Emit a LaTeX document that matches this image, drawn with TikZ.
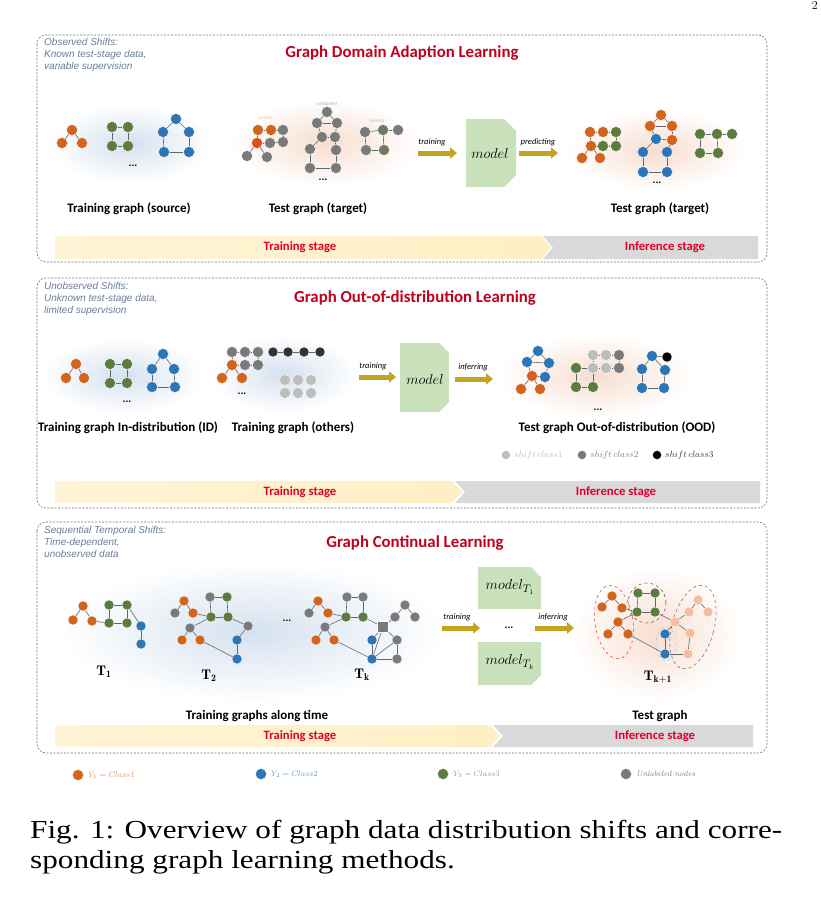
\documentclass[tikz,border=0pt]{standalone}
\usepackage{fontspec}
\setsansfont{Carlito}
\newfontfamily\notefont{Liberation Sans}
\newfontfamily\capfont[FakeStretch=1.2]{Liberation Serif}
\usetikzlibrary{arrows.meta}
\definecolor{corange}{HTML}{D2641E}
\definecolor{cgreen}{HTML}{5B7B3F}
\definecolor{cblue}{HTML}{2E75B6}
\definecolor{cgray}{HTML}{7A7A7A}
\definecolor{cdark}{HTML}{333333}
\definecolor{clight}{HTML}{BDBDBD}
\definecolor{clo}{HTML}{F2BFA0}
\definecolor{titlered}{HTML}{C00020}
\definecolor{stagered}{HTML}{E0002A}
\definecolor{notecol}{HTML}{6B7C99}
\definecolor{arrowcol}{HTML}{C3A41E}
\definecolor{modelcol}{HTML}{C9E2BC}
\definecolor{edgecol}{HTML}{5E6670}
\definecolor{bglow}{HTML}{D5E1EF}
\definecolor{pglow}{HTML}{F7DDCF}
\definecolor{trainbar}{HTML}{FFEFC4}
\definecolor{infbar}{HTML}{D9D9D9}
\newcommand{\GN}[4]{\node[gn,fill=#2] (#1) at (#3,#4) {};}
\newcommand{\GS}[4]{\node[gn,minimum size=10pt,fill=#2] (#1) at (#3,#4) {};}
\newcommand{\GE}[1]{\foreach \a/\b in {#1} {\draw[ge] (\a)--(\b);}}
\begin{document}
\begin{tikzpicture}[x=1pt,y=-1pt,
  gn/.style={circle,inner sep=0pt,minimum size=11pt,draw=white,line width=0.3pt},
  ge/.style={draw=edgecol,line width=0.6pt},
  note/.style={font=\notefont\itshape\fontsize{10}{12}\selectfont,text=notecol,align=left,anchor=north west,inner sep=0pt},
  ttl/.style={font=\sffamily\bfseries\fontsize{16.8}{19}\selectfont,text=titlered},
  lab/.style={font=\sffamily\bfseries\fontsize{13}{15}\selectfont},
  stagel/.style={font=\sffamily\bfseries\fontsize{12.7}{14}\selectfont,text=stagered},
  arl/.style={font=\sffamily\itshape\fontsize{8.5}{10}\selectfont},
  dotsl/.style={font=\sffamily\bfseries\fontsize{11}{12}\selectfont,inner sep=0pt},
  panel/.style={draw=black!55,dash pattern=on 2pt off 1.5pt,line width=0.6pt,rounded corners=9pt},
  bigarrow/.style={line width=5pt,draw=arrowcol,-{Triangle[length=7pt,width=11pt]}},
  mtext/.style={font=\fontsize{15}{17}\selectfont},
  tiny/.style={font=\sffamily\fontsize{5}{6}\selectfont,inner sep=0pt}
]
\useasboundingbox (0,0) rectangle (820,902);
\fill[white] (0,0) rectangle (820,902);
\node[font=\fontsize{12}{14}\selectfont,inner sep=0pt,anchor=north east] (pg) at (818,1) {2};

%%%%%%%%%%%%%%%% PANEL 1
\draw[panel] (37,35) rectangle (767,262);
\node[note] (n1) at (44,38) {Observed Shifts:\\Known test-stage data,\\variable supervision};
\node[ttl] (t1) at (402,53) {Graph Domain Adaption Learning};
\shade[inner color=bglow,outer color=white] (130,144) ellipse [x radius=82pt,y radius=40pt];
\shade[inner color=pglow,outer color=white] (325,143) ellipse [x radius=94pt,y radius=43pt];
\shade[inner color=pglow,outer color=white] (656,150) ellipse [x radius=90pt,y radius=40pt];
% source
\GN{a1}{corange}{72}{130}\GN{a2}{corange}{62}{143}\GN{a3}{corange}{82}{143}
\GE{a1/a2,a1/a3}
\GN{b1}{cgreen}{112}{127}\GN{b2}{cgreen}{128}{127}\GN{b3}{cgreen}{112}{146}\GN{b4}{cgreen}{128}{146}
\GE{b1/b2,b2/b4,b4/b3,b3/b1}
\GN{c1}{cblue}{176}{119}\GN{c2}{cblue}{163}{132}\GN{c3}{cblue}{189}{132}\GN{c4}{cblue}{164}{152}\GN{c5}{cblue}{189}{152}
\GE{c1/c2,c1/c3,c2/c4,c3/c5,c4/c5}
\node[dotsl] (d1) at (133,166) {...};
% target
\GN{t1a}{corange}{258}{130}\GN{t1b}{corange}{271}{130}\GN{t1c}{cgray}{283}{130}
\GN{t1d}{corange!80!red}{257}{143}\GN{t1e}{cgray}{270}{143}\GN{t1f}{cgray}{283}{142}
\GN{t1g}{cgray}{247}{156}\GN{t1h}{cgray}{267}{157}
\GE{t1a/t1b,t1b/t1c,t1a/t1d,t1c/t1f,t1d/t1e,t1e/t1f,t1d/t1g,t1d/t1h}
\GN{m1}{cgray}{327}{112}\GN{m2}{cgray}{317}{123}\GN{m3}{cgray}{337}{123}
\GN{m4}{cgray}{322}{137}\GN{m5}{cgray}{335}{137}\GN{m6}{cgray}{310}{149}\GN{m7}{cgray}{336}{150}
\GN{m8}{cgray}{310}{168}\GN{m9}{cgray}{336}{168}
\GE{m1/m2,m1/m3,m2/m3,m2/m4,m3/m5,m4/m5,m4/m6,m5/m7,m6/m8,m7/m9,m8/m9}
\GN{r1}{cgray}{365}{132}\GN{r2}{cgray!60!cgreen}{383}{130}\GN{r3}{cgray}{398}{130}
\GN{r4}{cgray}{366}{150}\GN{r5}{cgray!60!cgreen}{384}{150}
\GE{r1/r2,r2/r3,r2/r5,r5/r4,r4/r1}
\node[tiny,text=corange!40] (s1) at (265,118) {source};
\node[tiny,text=black!30] (s2) at (327,104) {unlabeled};
\node[tiny,text=cgreen!40] (s3) at (377,121) {labeled};
\node[dotsl] (d2) at (323,180) {...};
% predicted
\GN{p1}{corange}{590}{132}\GN{p2}{corange}{603}{132}\GN{p3}{cgreen}{616}{132}
\GN{p4}{corange}{591}{146}\GN{p5}{cgreen}{603}{146}\GN{p6}{cgreen}{616}{146}
\GN{p7}{corange}{582}{158}\GN{p8}{corange}{600}{158}
\GE{p1/p2,p2/p3,p1/p4,p3/p6,p4/p5,p5/p6,p4/p7,p4/p8}
\GN{q1}{corange}{661}{115}\GN{q2}{corange}{650}{126}\GN{q3}{corange}{672}{126}
\GN{q4}{cblue}{656}{139}\GN{q5}{corange}{672}{140}\GN{q6}{cblue}{643}{152}\GN{q7}{cblue}{667}{152}
\GN{q8}{cblue}{643}{172}\GN{q9}{cblue}{667}{172}
\GE{q1/q2,q1/q3,q2/q3,q2/q4,q3/q5,q4/q5,q4/q6,q5/q7,q6/q8,q7/q9,q8/q9}
\GN{w1}{cgreen}{700}{134}\GN{w2}{cgreen}{717}{134}\GN{w3}{cgreen}{732}{134}
\GN{w4}{cgreen}{700}{153}\GN{w5}{cgreen}{718}{153}
\GE{w1/w2,w2/w3,w2/w5,w5/w4,w4/w1}
\node[dotsl] (d3) at (657,183) {...};
% model and arrows
\fill[modelcol] (466,119) -- (504,119) -- (516,131) -- (516,175) -- (504,187) -- (466,187) -- cycle;
\node[mtext] (mod1) at (490,153) {$model$};
\coordinate (ar1s) at (418,153); \coordinate (ar1e) at (457,153);
\coordinate (ar2s) at (519,153); \coordinate (ar2e) at (558,153);
\draw[bigarrow] (ar1s) -- (ar1e);
\draw[bigarrow] (ar2s) -- (ar2e);
\node[arl] (al1) at (432,142) {training};
\node[arl] (al2) at (538,142) {predicting};
\node[lab] (l1) at (129,209) {Training graph (source)};
\node[lab] (l2) at (318,209) {Test graph (target)};
\node[lab] (l3) at (660,209) {Test graph (target)};
\shade[left color=trainbar!70,right color=trainbar] (55,236) -- (541,236) -- (551,247.5) -- (541,259) -- (55,259) -- cycle;
\fill[infbar] (543,236) -- (758,236) -- (758,259) -- (543,259) -- (553,247.5) -- cycle;
\node[stagel] (st1) at (300,247.5) {Training stage};
\node[stagel] (st2) at (665,247.5) {Inference stage};

%%%%%%%%%%%%%%%% PANEL 2
\draw[panel] (37,278) rectangle (767,508);
\node[note] (n2) at (44,282) {Unobserved Shifts:\\Unknown test-stage data,\\limited supervision};
\node[ttl] (t2) at (415,298) {Graph Out-of-distribution Learning};
\shade[inner color=bglow,outer color=white] (123,376) ellipse [x radius=82pt,y radius=38pt];
\shade[inner color=bglow,outer color=white] (283,374) ellipse [x radius=74pt,y radius=39pt];
\shade[inner color=pglow,outer color=white] (596,376) ellipse [x radius=98pt,y radius=41pt];
\GN{e1}{corange}{76}{364}\GN{e2}{corange}{66}{378}\GN{e3}{corange}{84}{378}
\GE{e1/e2,e1/e3}
\GN{f1}{cgreen}{110}{364}\GN{f2}{cgreen}{127}{364}\GN{f3}{cgreen}{110}{383}\GN{f4}{cgreen}{127}{383}
\GE{f1/f2,f2/f4,f4/f3,f3/f1}
\GN{g1}{cblue}{163}{354}\GN{g2}{cblue}{152}{369}\GN{g3}{cblue}{174}{369}\GN{g4}{cblue}{152}{387}\GN{g5}{cblue}{175}{387}
\GE{g1/g2,g1/g3,g2/g4,g3/g5,g4/g5}
\node[dotsl] (d4) at (127,402) {...};
\GN{h1}{cgray}{232}{352}\GN{h2}{cgray}{245}{352}\GN{h3}{cgray}{258}{352}
\GN{h4}{corange}{232}{365}\GN{h5}{cgray}{245}{365}\GN{h6}{cgray}{258}{365}
\GN{h7}{corange}{222}{378}\GN{h8}{corange}{242}{378}
\GE{h1/h2,h2/h3,h1/h4,h3/h6,h4/h5,h5/h6,h4/h7,h4/h8}
\GS{i1}{cdark}{273}{352}\GS{i2}{cdark}{288}{352}\GS{i3}{cdark}{304}{352}\GS{i4}{cdark}{320}{352}
\GE{i1/i2,i2/i3,i3/i4}
\GN{j1}{clight}{285}{380}\GN{j2}{clight}{298}{380}\GN{j3}{clight}{311}{380}
\GN{j4}{clight}{285}{393}\GN{j5}{clight}{298}{393}\GN{j6}{clight}{311}{393}
\node[dotsl] (d5) at (242,394) {...};
% OOD test
\GN{k1}{cblue}{538}{351}\GN{k2}{cblue}{527}{362}\GN{k3}{cblue}{549}{363}
\GN{k4}{corange}{532}{376}\GN{k5}{cblue}{545}{377}\GN{k6}{corange}{521}{389}\GN{k7}{corange}{540}{389}
\GE{k1/k2,k1/k3,k2/k3,k3/k5,k2/k4,k4/k5,k4/k6,k4/k7}
\GN{o1}{clight}{593}{355}\GN{o2}{clight}{606}{355}\GN{o3}{cgray}{619}{355}
\GN{o4}{cgreen}{576}{368}\GN{o5}{clight}{593}{368}\GN{o6}{clight}{606}{368}\GN{o7}{cgray}{619}{368}
\GN{o8}{cgreen}{576}{387}\GN{o9}{cgreen}{593}{387}
\GE{o1/o2,o2/o3,o1/o5,o3/o7,o4/o5,o5/o6,o6/o7,o4/o8,o8/o9,o9/o5}
\GN{u1}{cblue}{652}{356}\GS{u2}{black}{667}{357}\GN{u3}{cblue}{642}{369}\GN{u4}{cblue}{665}{370}
\GN{u5}{cblue}{642}{388}\GN{u6}{cblue}{664}{388}
\GE{u1/u2,u1/u3,u1/u4,u3/u5,u4/u6,u5/u6}
\node[dotsl] (d6) at (598,410) {...};
\fill[modelcol] (400,343) -- (439,343) -- (449,353) -- (449,402) -- (439,412) -- (400,412) -- cycle;
\node[mtext] (mod2) at (425,379) {$model$};
\coordinate (ar3s) at (359,377); \coordinate (ar3e) at (396,377);
\coordinate (ar4s) at (455,379); \coordinate (ar4e) at (493,379);
\draw[bigarrow] (ar3s) -- (ar3e);
\draw[bigarrow] (ar4s) -- (ar4e);
\node[arl] (al3) at (373,366) {training};
\node[arl] (al4) at (473,367) {inferring};
\node[lab] (l4) at (128,428) {Training graph In-distribution (ID)};
\node[lab] (l5) at (293,428) {Training graph (others)};
\node[lab] (l6) at (617,428) {Test graph Out-of-distribution (OOD)};
\node[gn,minimum size=9pt,fill=clight] (sc1) at (506,455) {};
\node[anchor=west,inner sep=0pt,text=black!25,font=\fontsize{9.5}{10}\selectfont] (sct1) at (514,455) {$shift\,class1$};
\node[gn,minimum size=9pt,fill=cgray] (sc2) at (582,455) {};
\node[anchor=west,inner sep=0pt,text=black!50,font=\fontsize{9.5}{10}\selectfont] (sct2) at (590,455) {$shift\,class2$};
\node[gn,minimum size=9pt,fill=black] (sc3) at (657,455) {};
\node[anchor=west,inner sep=0pt,text=black!80,font=\fontsize{9.5}{10}\selectfont] (sct3) at (665,455) {$shift\,class3$};
\shade[left color=trainbar!70,right color=trainbar] (55,481) -- (452,481) -- (462,492) -- (452,503) -- (55,503) -- cycle;
\fill[infbar] (455,481) -- (760,481) -- (760,503) -- (455,503) -- (465,492) -- cycle;
\node[stagel] (st3) at (300,492) {Training stage};
\node[stagel] (st4) at (616,492) {Inference stage};

%%%%%%%%%%%%%%%% PANEL 3
\draw[panel] (37,522) rectangle (767,753);
\node[note] (n3) at (44,526) {Sequential Temporal Shifts:\\Time-dependent,\\unobserved data};
\node[ttl] (t3) at (415,543) {Graph Continual Learning};
\shade[inner color=bglow,outer color=white] (253,632) ellipse [x radius=194pt,y radius=70pt];
\shade[inner color=pglow,outer color=white] (657,634) ellipse [x radius=84pt,y radius=67pt];
% T1
\GS{x1}{corange}{83}{606}\GS{x2}{corange}{73}{620}\GS{x3}{corange}{92}{621}
\GS{x4}{cgreen}{109}{605}\GS{x5}{cgreen}{127}{605}\GS{x6}{cgreen}{109}{623}\GS{x7}{cgreen}{127}{623}
\GS{x8}{cblue}{141}{626}\GS{x9}{cblue}{141}{644}
\GE{x1/x2,x1/x3,x3/x6,x4/x5,x5/x7,x7/x6,x6/x4,x5/x8,x8/x9}
% T2
\GS{y1}{corange}{184}{601}\GS{y2}{cgray}{175}{613}\GS{y3}{corange}{193}{613}
\GS{y4}{cgray}{210}{597}\GS{y5}{cgreen}{227}{597}\GS{y6}{cgreen}{211}{617}\GS{y7}{cgreen}{228}{617}
\GS{y8}{cgray}{190}{628}\GS{y9}{cgray}{248}{626}\GS{y10}{corange}{182}{640}\GS{y11}{corange}{200}{640}
\GS{y12}{cblue}{237}{640}\GS{y13}{cblue}{237}{659}
\GE{y1/y2,y1/y3,y3/y6,y4/y5,y4/y6,y5/y7,y6/y7,y6/y8,y7/y9,y8/y10,y8/y11,y9/y12,y12/y13,y11/y13}
\node[dotsl] (d7) at (287,621) {...};
% Tk
\GS{z1}{corange}{318}{601}\GS{z2}{cgray}{309}{613}\GS{z3}{corange}{328}{613}
\GS{z4}{cgray}{347}{597}\GS{z5}{cgray}{363}{597}\GS{z6}{cgreen}{346}{617}\GS{z7}{cgreen}{363}{617}
\GS{z8}{cgray}{325}{627}
\node[rectangle,inner sep=0pt,minimum size=11pt,fill=cgray,draw=white,line width=0.3pt] (z9) at (383,627) {};
\GS{z10}{cgray}{405}{605}\GS{z11}{cgray}{395}{617}\GS{z12}{cgray}{415}{617}
\GS{z13}{corange}{316}{640}\GS{z14}{corange}{334}{640}\GS{z15}{cblue}{372}{640}\GS{z16}{cgray}{397}{640}
\GS{z17}{cblue}{372}{659}\GS{z18}{cgray}{397}{659}
\GE{z1/z2,z1/z3,z3/z6,z4/z5,z4/z6,z5/z7,z6/z7,z6/z8,z7/z9,z8/z13,z8/z14,z10/z11,z10/z12,z11/z9,z9/z15,z9/z16,z15/z17,z16/z18,z17/z18,z14/z17,z9/z17,z16/z17}
\node[font=\fontsize{14}{16}\selectfont] (T1) at (104,672) {$\mathbf{T_1}$};
\node[font=\fontsize{14}{16}\selectfont] (T2) at (209,676) {$\mathbf{T_2}$};
\node[font=\fontsize{14}{16}\selectfont] (Tk) at (362,675) {$\mathbf{T_k}$};
% test graph T_{k+1}
\draw[red!80,dashed,line width=0.5pt,rotate around={8:(614,622)}] (614,622) ellipse [x radius=19pt,y radius=37pt];
\draw[black!70,dashed,line width=0.5pt] (647,603) ellipse [x radius=19pt,y radius=20pt];
\draw[black!60,dashed,line width=0.5pt,rotate around={-15:(693,627)}] (693,627) ellipse [x radius=21pt,y radius=43pt];
\draw[cblue!40,dashed,line width=0.5pt] (666,644) ellipse [x radius=10pt,y radius=17pt];
\GS{v1}{corange}{612}{596}\GS{v2}{corange}{602}{607}\GS{v3}{corange}{622}{608}
\GS{v4}{corange}{618}{622}\GS{v5}{corange}{608}{634}\GS{v6}{corange}{628}{634}
\GS{g7}{cgreen}{638}{593}\GS{g8}{cgreen}{655}{593}\GS{g9}{cgreen}{637}{612}\GS{g10}{cgreen}{655}{612}
\GS{lo1}{clo}{698}{600}\GS{lo2}{clo}{689}{612}\GS{lo3}{clo}{708}{612}\GS{lo4}{clo}{675}{622}\GS{lo5}{clo}{690}{633}\GS{lo6}{clo}{688}{654}
\GS{bb1}{cblue}{665}{634}\GS{bb2}{cblue}{665}{654}
\GE{v1/v2,v1/v3,v3/g9,v4/v5,v4/v6,v4/g9,g7/g8,g8/g10,g10/g9,g9/g7,g10/lo4,lo4/lo2,lo1/lo2,lo1/lo3,lo4/lo5,lo5/lo6,bb2/lo6,bb1/bb2,v6/bb2,lo4/bb1}
\node[font=\fontsize{14}{16}\selectfont] (Tk1) at (658,677) {$\mathbf{T_{k+1}}$};
% models and arrows
\fill[modelcol] (478,567) -- (531,567) -- (541,577) -- (541,609) -- (478,609) -- cycle;
\node[mtext] (mod3) at (510,587) {$model_{T_1}$};
\node[dotsl] (d8) at (509,628) {...};
\fill[modelcol] (478,642) -- (541,642) -- (541,675) -- (531,685) -- (478,685) -- cycle;
\node[mtext] (mod4) at (510,662) {$model_{T_k}$};
\coordinate (ar5s) at (442,628); \coordinate (ar5e) at (480,628);
\coordinate (ar6s) at (535,628); \coordinate (ar6e) at (574,628);
\draw[bigarrow] (ar5s) -- (ar5e);
\draw[bigarrow] (ar6s) -- (ar6e);
\node[arl] (al5) at (457,617) {training};
\node[arl] (al6) at (553,617) {inferring};
\node[lab] (l7) at (257,716) {Training graphs along time};
\node[lab] (l8) at (660,716) {Test graph};
\shade[left color=trainbar!70,right color=trainbar] (55,725) -- (490,725) -- (500,736) -- (490,747) -- (55,747) -- cycle;
\fill[infbar] (493,725) -- (753,725) -- (753,747) -- (493,747) -- (503,736) -- cycle;
\node[stagel] (st5) at (300,736) {Training stage};
\node[stagel] (st6) at (655,736) {Inference stage};

%%%%%%%%%%%%%%%% LEGEND
\node[gn,fill=corange] (lg1) at (78,775) {};
\node[anchor=west,inner sep=0pt,text=corange!70,font=\fontsize{8}{9}\selectfont] (lgt1) at (88,775) {$Y_1 = Class1$};
\node[gn,fill=cblue] (lg2) at (261,774) {};
\node[anchor=west,inner sep=0pt,text=cblue!70,font=\fontsize{8}{9}\selectfont] (lgt2) at (271,774) {$Y_2 = Class2$};
\node[gn,fill=cgreen] (lg3) at (443,774) {};
\node[anchor=west,inner sep=0pt,text=cgreen!70,font=\fontsize{8}{9}\selectfont] (lgt3) at (453,774) {$Y_3 = Class3$};
\node[gn,fill=cgray] (lg4) at (626,774) {};
\node[anchor=west,inner sep=0pt,text=black!50,font=\fontsize{8}{9}\selectfont\itshape] (lgt4) at (636,774) {Unlabeled nodes};

%%%%%%%%%%%%%%%% CAPTION
\node[anchor=base west,inner sep=0pt,font=\capfont\fontsize{26}{30}\selectfont] (cap1) at (30,838) {Fig. 1: Overview of graph data distribution shifts and corre-};
\node[anchor=base west,inner sep=0pt,font=\capfont\fontsize{26}{30}\selectfont] (cap2) at (30,868) {sponding graph learning methods.};
\end{tikzpicture}
\end{document}
